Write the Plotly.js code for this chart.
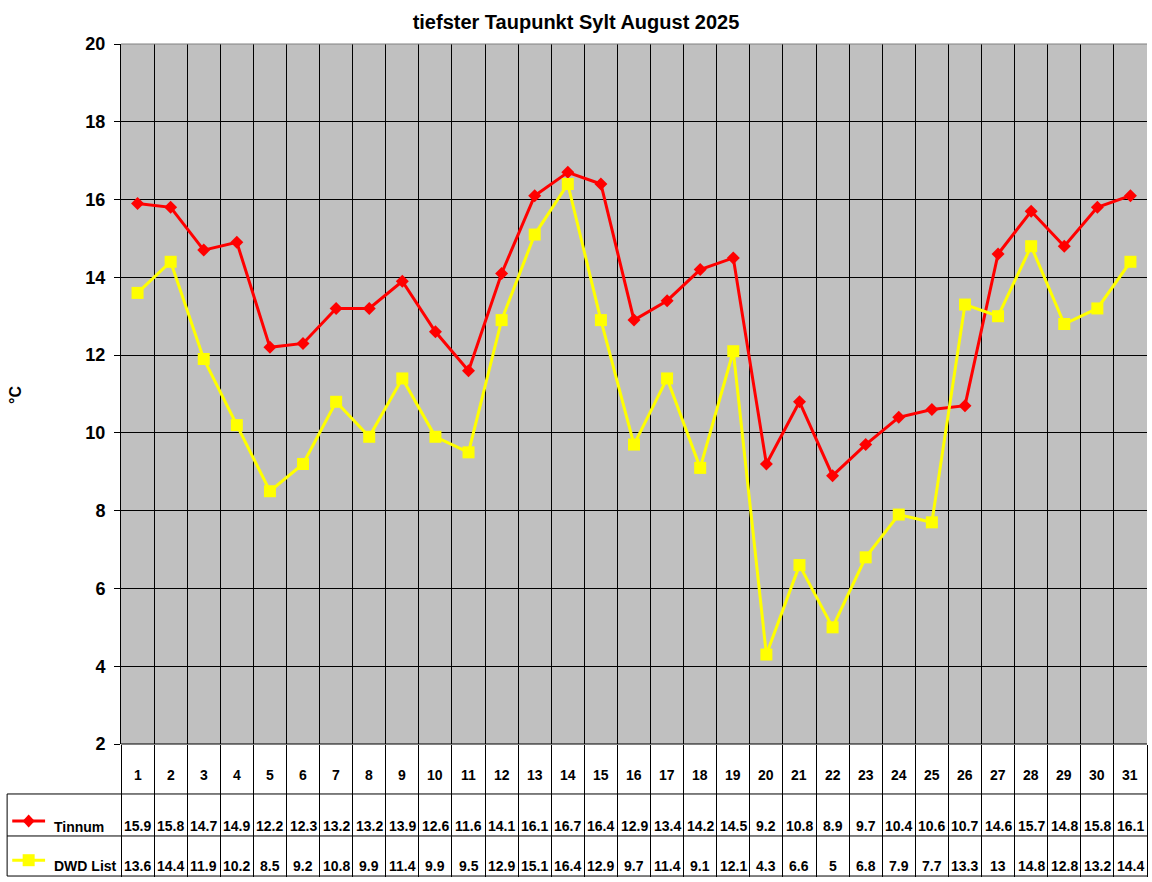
<!DOCTYPE html>
<html>
<head>
<meta charset="utf-8">
<script src="https://cdn.plot.ly/plotly-3.0.1.min.js"></script>
<style>
  body { margin: 0; background: #fff; }
  #chart { width: 1152px; height: 882px; }
</style>
</head>
<body>
<div id="chart"></div>
<script>
/* global Plotly */

const days = [1, 2, 3, 4, 5, 6, 7, 8, 9, 10, 11, 12, 13, 14, 15, 16,
    17, 18, 19, 20, 21, 22, 23, 24, 25, 26, 27, 28, 29, 30, 31];
const tinnum = [15.9, 15.8, 14.7, 14.9, 12.2, 12.3, 13.2, 13.2, 13.9, 12.6, 11.6,
    14.1, 16.1, 16.7, 16.4, 12.9, 13.4, 14.2, 14.5, 9.2, 10.8, 8.9, 9.7, 10.4,
    10.6, 10.7, 14.6, 15.7, 14.8, 15.8, 16.1];
const dwdList = [13.6, 14.4, 11.9, 10.2, 8.5, 9.2, 10.8, 9.9, 11.4, 9.9, 9.5,
    12.9, 15.1, 16.4, 12.9, 9.7, 11.4, 9.1, 12.1, 4.3, 6.6, 5, 6.8, 7.9,
    7.7, 13.3, 13, 14.8, 12.8, 13.2, 14.4];
const seriesNames = ["Tinnum", "DWD List"];

const FONT = "'Liberation Sans', Arial, sans-serif";
const tableFont = { family: FONT, size: 14, weight: "bold", color: "#000" };

// table geometry in paper units (plot is 1026 x 700 px)
const rowDay = -0.044;
const rowTinnum = -0.117;
const rowDwd = -0.174;
const tableLeft = -0.111;

const data = [
    {
        x: days, y: tinnum, name: seriesNames[0], type: "scatter", mode: "lines+markers",
        line: { color: "#ff0000", width: 3 },
        marker: { symbol: "diamond", size: 10, color: "#ff0000" },
        showlegend: false,
    },
    {
        x: days, y: dwdList, name: seriesNames[1], type: "scatter", mode: "lines+markers",
        line: { color: "#ffff00", width: 3 },
        marker: { symbol: "square", size: 12, color: "#ffff00" },
        showlegend: false,
    },
];

// boundaries between the days -> vertical grid / table lines
const bounds = days.map((d) => d - 0.5).concat([days.length + 0.5]);

const cell = (x, y, text) => ({ x: x, y: y, xref: "x", yref: "paper", text: text,
    xanchor: "center", yanchor: "middle", showarrow: false, font: tableFont });

const annotations = [];
days.forEach((d, i) => {
    annotations.push(cell(d, rowDay, String(d)));
    annotations.push(cell(d, rowTinnum, String(tinnum[i])));
    annotations.push(cell(d, rowDwd, String(dwdList[i])));
});
annotations.push({ x: -0.067, y: rowTinnum - 0.002, xref: "paper", yref: "paper",
    xanchor: "left", yanchor: "middle", text: seriesNames[0], showarrow: false, font: tableFont });
annotations.push({ x: -0.067, y: rowDwd, xref: "paper", yref: "paper",
    xanchor: "left", yanchor: "middle", text: seriesNames[1], showarrow: false, font: tableFont });
annotations.push({ x: -0.103, y: 0.499, xref: "paper", yref: "paper", textangle: -90,
    xanchor: "center", yanchor: "middle", text: "°C", showarrow: false,
    font: { family: FONT, size: 16, weight: "bold", color: "#000" } });

const hline = (y) => ({ type: "line", xref: "paper", yref: "paper", x0: tableLeft, x1: 1,
    y0: y, y1: y, line: { color: "#000", width: 1 } });

const shapes = [
    hline(-0.0714), hline(-0.1314), hline(-0.1886),
    { type: "line", xref: "paper", yref: "paper", x0: tableLeft, x1: tableLeft,
        y0: -0.0714, y1: -0.1886, line: { color: "#000", width: 1 } },
    { type: "line", xref: "paper", yref: "paper", x0: 0, x1: 1, y0: 1, y1: 1,
        line: { color: "#808080", width: 1 } },
    { type: "line", xref: "paper", yref: "paper", x0: 0, x1: 1, y0: 0, y1: 0,
        line: { color: "#000", width: 1 } },
    // legend keys inside the table
    { type: "line", xref: "paper", yref: "paper", x0: -0.106, x1: -0.074,
        y0: -0.110, y1: -0.110, line: { color: "#ff0000", width: 3 } },
    { type: "path", xref: "paper", yref: "paper", xsizemode: "pixel", ysizemode: "pixel",
        xanchor: -0.090, yanchor: -0.110, path: "M0,6.5 L6,0 L0,-6.5 L-6,0 Z",
        fillcolor: "#ff0000", line: { width: 0 } },
    { type: "line", xref: "paper", yref: "paper", x0: -0.106, x1: -0.074,
        y0: -0.166, y1: -0.166, line: { color: "#ffff00", width: 3 } },
    { type: "path", xref: "paper", yref: "paper", xsizemode: "pixel", ysizemode: "pixel",
        xanchor: -0.090, yanchor: -0.166, path: "M-6,-6 L6,-6 L6,6 L-6,6 Z",
        fillcolor: "#ffff00", line: { width: 0 } },
];

const layout = {
    width: 1152,
    height: 882,
    margin: { l: 121, r: 5, t: 44, b: 138 },
    paper_bgcolor: "#ffffff",
    plot_bgcolor: "#c0c0c0",
    font: { family: FONT, color: "#000" },
    title: {
        text: "tiefster Taupunkt Sylt August 2025",
        font: { family: FONT, size: 20, weight: "bold", color: "#000" },
        x: 0.5, xanchor: "center", y: 0.975, yref: "container", yanchor: "middle",
    },
    xaxis: {
        range: [0.5, days.length + 0.5],
        tickmode: "array",
        tickvals: bounds,
        showticklabels: false,
        showgrid: true,
        gridcolor: "#000",
        gridwidth: 1,
        ticks: "outside",
        ticklen: 132,
        tickcolor: "#000",
        tickwidth: 1,
        zeroline: false,
        showline: false,
        fixedrange: true,
    },
    yaxis: {
        range: [2, 20],
        tick0: 2,
        dtick: 2,
        showgrid: true,
        gridcolor: "#000",
        gridwidth: 1,
        ticks: "outside",
        ticklen: 6,
        tickcolor: "#000",
        ticklabelstandoff: 5,
        tickfont: { family: FONT, size: 18, weight: "bold", color: "#000" },
        showline: true,
        linecolor: "#000",
        linewidth: 1,
        zeroline: false,
        fixedrange: true,
    },
    annotations: annotations,
    shapes: shapes,
};

Plotly.newPlot("chart", data, layout, { displayModeBar: false, staticPlot: true });
</script>
</body>
</html>
